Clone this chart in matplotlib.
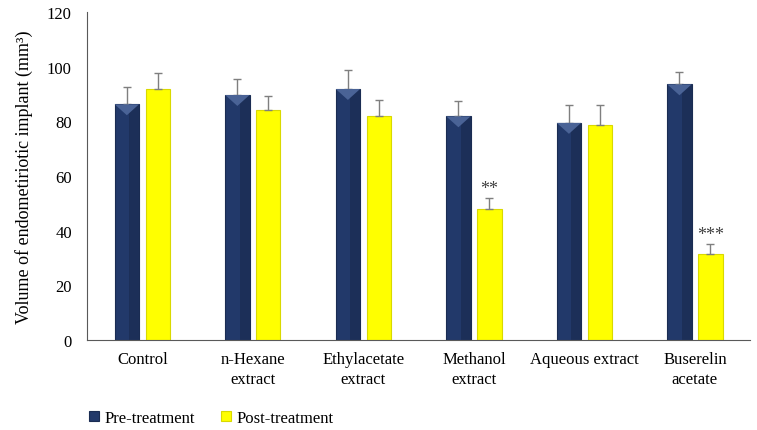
import matplotlib.pyplot as plt
import numpy as np

# groups and values
groups = ['Control', 'n-Hexane\nextract', 'Ethylacetate\nextract',
          'Methanol\nextract', 'Aqueous extract', 'Buserelin\nacetate']
pre_vals = [86.2, 89.6, 91.8, 81.8, 79.4, 93.5]
pre_err = [6.3, 6.0, 6.9, 5.5, 6.5, 4.4]
post_vals = [91.8, 84.2, 82.0, 47.9, 78.6, 31.4]
post_err = [5.9, 5.0, 5.8, 4.1, 7.3, 3.8]
post_marks = ['', '', '', '**', '', '***']

plt.rcParams['font.family'] = ['Liberation Serif', 'DejaVu Serif']

fig = plt.figure(figsize=(7.57, 4.31), dpi=100)
ax = fig.add_axes([0.115, 0.209, 0.876, 0.761])

x = np.arange(len(groups))
width = 0.22
off = 0.14
navy = '#22396A'
yellow = '#FFFF00'

ax.bar(x - off, pre_vals, width, color=navy, edgecolor='#1A2C52', linewidth=0.8,
       yerr=[np.zeros(len(x)), pre_err], ecolor='#7F7F7F',
       error_kw=dict(capsize=3, elinewidth=1, capthick=1), zorder=2,
       label='Pre-treatment')
ax.bar(x + off, post_vals, width, color=yellow, edgecolor='#D9D900', linewidth=0.8,
       yerr=[np.zeros(len(x)), post_err], ecolor='#7F7F7F',
       error_kw=dict(capsize=3, elinewidth=1, capthick=1), zorder=2,
       label='Post-treatment')

# darker right side on navy bars, lighter triangle on top
for xi, v in zip(x, pre_vals):
    ax.bar(xi - off + width * 0.3, v, width * 0.4, color='#1C2F58', zorder=2.5,
           linewidth=0)
    ax.fill([xi - off - width / 2, xi - off + width / 2, xi - off],
            [v, v, v - 4], color='#4A6396', zorder=3, linewidth=0)

# significance stars
for xi, v, e, m in zip(x, post_vals, post_err, post_marks):
    if m:
        ax.text(xi + off, v + e + 0.3, m, ha='center', va='bottom',
                fontsize=13, color='#404040')

ax.set_xlim(-0.5, 5.5)
ax.set_ylim(0, 120)
ax.set_yticks(np.arange(0, 121, 20))
ax.set_xticks(x)
ax.set_xticklabels(groups, fontsize=12, linespacing=1.3)
ax.tick_params(axis='both', length=0, labelsize=12)
ax.tick_params(axis='x', pad=8)
ax.tick_params(axis='y', pad=11)
for s in ['top', 'right']:
    ax.spines[s].set_visible(False)
ax.spines['left'].set_color('#595959')
ax.spines['bottom'].set_color('#595959')

ax.set_ylabel('Volume of endometiriotic implant (mm³)', fontsize=13, labelpad=10)

fig.legend(loc='center left', bbox_to_anchor=(0.118, 1 - 419 / 431),
           ncol=2, frameon=False, fontsize=12, handlelength=0.6, handleheight=0.6,
           handletextpad=0.3, columnspacing=1.6, borderaxespad=0, borderpad=0)

fig.savefig('out.png', dpi=100)
